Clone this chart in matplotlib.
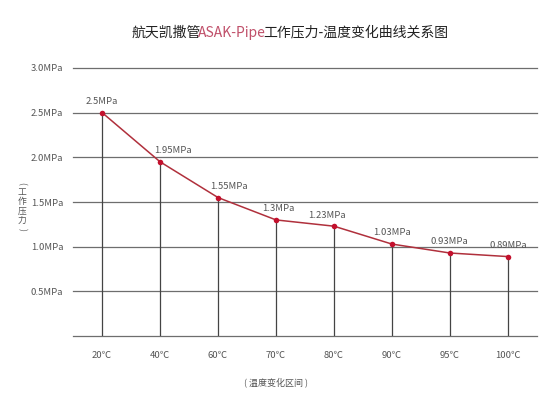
import matplotlib.pyplot as plt
from matplotlib.offsetbox import AnnotationBbox, HPacker, TextArea

plt.rcParams["font.family"] = ["Noto Sans CJK SC", "DejaVu Sans"]

# data
temps = ["20℃", "40℃", "60℃", "70℃", "80℃", "90℃", "95℃", "100℃"]
pressure = [2.5, 1.95, 1.55, 1.3, 1.23, 1.03, 0.93, 0.89]
point_labels = ["2.5MPa", "1.95MPa", "1.55MPa", "1.3MPa", "1.23MPa", "1.03MPa", "0.93MPa", "0.89MPa"]
label_dx = [0, 9, 8, 2, -5, 0, 0, 0]  # points, label nudges
yticks = [0.5, 1.0, 1.5, 2.0, 2.5, 3.0]
ytick_labels = ["0.5MPa", "1.0MPa", "1.5MPa", "2.0MPa", "2.5MPa", "3.0MPa"]
ylabel_chars = ["(", "工", "作", "压", "力", ")"]

GRID = "#6e6e6e"
TXT = "#555555"
RED = "#c3102d"
LINE = "#b0303c"
PINK = "#c0506a"

fig = plt.figure(figsize=(5.5, 3.95), dpi=100)
ax = fig.add_axes([0.133, 0.149, 0.843, 0.679])

x = list(range(len(temps)))
ax.set_xlim(-0.5, len(temps) - 0.5)
ax.set_ylim(0, 3.0)

for yv in [0.0] + yticks:
    ax.axhline(yv, color=GRID, linewidth=0.9, clip_on=False, zorder=1)
ax.vlines(x, 0, pressure, color="#444444", linewidth=0.9, zorder=1)

ax.plot(x, pressure, color=LINE, linewidth=1.1, zorder=2)
ax.scatter(x, pressure, s=16, color=RED, zorder=3, linewidths=0)

for xi, yi, lab, dx in zip(x, pressure, point_labels, label_dx):
    ax.annotate(lab, (xi, yi), xytext=(dx, 8), textcoords="offset points",
                ha="center", va="center", fontsize=6.8, color=TXT)

for s in ax.spines.values():
    s.set_visible(False)
ax.set_yticks(yticks)
ax.set_yticklabels(ytick_labels, fontsize=6.8, color=TXT)
ax.set_xticks(x)
ax.set_xticklabels(temps, fontsize=6.8, color=TXT)
ax.tick_params(axis="both", length=0)
ax.tick_params(axis="y", pad=7)
ax.tick_params(axis="x", pad=11)

ax.text(3, -0.52, "( 温度变化区间 )", ha="center", va="center", fontsize=6.5,
        color=TXT, transform=ax.transData, clip_on=False)

# vertical y label, one character per line, brackets turned sideways
y0 = 1 - 183 / 395
for i, ch in enumerate(ylabel_chars):
    rot = -90 if ch in "()" else 0
    fig.text(0.04, y0 - i * 9.3 / 395, ch, ha="center", va="center",
             fontsize=6.3, color=TXT, rotation=rot)

# multi-colour title
parts = [("航天凯撒管", "#222222"), ("ASAK-Pipe", PINK), ("工作压力-温度变化曲线关系图", "#222222")]
boxes = [TextArea(t, textprops=dict(fontsize=10, color=c)) for t, c in parts]
pack = HPacker(children=boxes, align="baseline", pad=0, sep=-2)
ab = AnnotationBbox(pack, (0.527, 0.917), xycoords="figure fraction", frameon=False,
                    box_alignment=(0.5, 0.5))
fig.add_artist(ab)

fig.savefig("out.png", dpi=100)
